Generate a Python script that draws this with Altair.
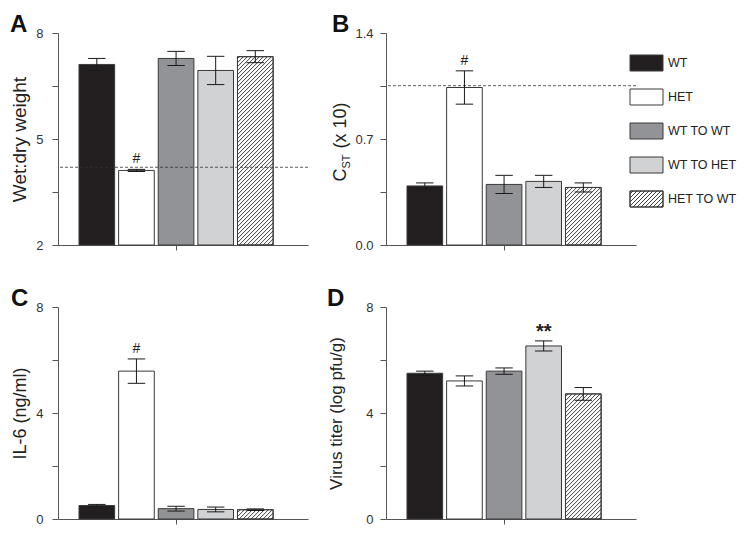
import altair as alt
import pandas as pd

# ---------------- data ----------------
groups = ["WT", "HET", "WT TO WT", "WT TO HET", "HET TO WT"]
fills = ["#231f20", "#ffffff", "#929396", "#d1d2d4", "#ffffff"]

wet_dry_mean = [7.11, 4.11, 7.28, 6.94, 7.33]
wet_dry_err = [0.17, 0.03, 0.20, 0.40, 0.17]
wet_dry_ref = 4.20
wet_dry_mark = ["", "#", "", "", ""]

cst_mean = [0.39, 1.04, 0.40, 0.42, 0.38]
cst_err = [0.02, 0.11, 0.06, 0.04, 0.03]
cst_ref = 1.052
cst_mark = ["", "#", "", "", ""]

il6_mean = [0.51, 5.58, 0.39, 0.36, 0.35]
il6_err = [0.04, 0.46, 0.09, 0.09, 0.03]
il6_mark = ["", "#", "", "", ""]

virus_mean = [5.50, 5.21, 5.58, 6.53, 4.72]
virus_err = [0.08, 0.19, 0.12, 0.19, 0.24]
virus_mark = ["", "", "", "**", ""]

# ---------------- style ----------------
FONT = "Liberation Sans"
W, H = 250, 212
XDOM = [-0.98, 5.33]
HALF = 0.45
CAP = 0.22
HATCH_GROUP = "HET TO WT"
HATCH_STEP = 4.0
AX = "#555555"
BAR_STROKE = "#3a3a3a"
SX = W / (XDOM[1] - XDOM[0])

color_scale = alt.Scale(domain=groups, range=fills)


def hatch_lines(x_lo, x_hi, y_lo, y_hi, sx, sy, step):
    """'/' hatch segments inside a rectangle, returned in data units."""
    wp = (x_hi - x_lo) * sx
    hp = (y_hi - y_lo) * sy
    out = []
    c = -wp + step / 2
    while c < hp:
        xs = max(0.0, -c)
        xe = min(wp, hp - c)
        if xe > xs:
            out.append((x_lo + xs / sx, y_lo + (xs + c) / sy,
                        x_lo + xe / sx, y_lo + (xe + c) / sy))
        c += step
    return out


def panel(letter, mean, err, mark, ydom, yvals, ylabels, fmt, ytitle,
          title_size, title_pad, label_pad, extent, ref=None, mark_size=14,
          mark_bold=False, mark_dy=-10, custom_title=False, legend=False):
    df = pd.DataFrame({"group": groups, "idx": list(range(len(groups))),
                       "mean": mean, "err": err, "mark": mark})
    xs = alt.Scale(domain=XDOM, nice=False, zero=False)
    ys = alt.Scale(domain=ydom, nice=False, zero=False)
    xaxis = alt.Axis(values=[2], labels=False, title=None, tickSize=5,
                     grid=False, domainColor=AX, tickColor=AX)
    label_list = ",".join(str(v) for v in ylabels)
    yaxis = alt.Axis(values=yvals, format=fmt, grid=False, tickSize=6,
                     labelPadding=label_pad, labelFontSize=13, labelFont=FONT,
                     labelColor="#333333",
                     labelExpr=f"indexof([{label_list}], datum.value) >= 0 ? datum.label : ''",
                     title=(None if custom_title else ytitle),
                     titleFont=FONT, titleFontSize=title_size,
                     titleFontWeight="normal", titleColor="#222222",
                     titlePadding=title_pad, minExtent=extent, maxExtent=extent,
                     domainColor=AX, tickColor=AX)

    def X(f):
        return alt.X(f"{f}:Q", scale=xs, axis=xaxis)

    def Y(f):
        return alt.Y(f"{f}:Q", scale=ys, axis=yaxis)

    base = alt.Chart(df).transform_calculate(
        xl=f"datum.idx - {HALF}", xr=f"datum.idx + {HALF}",
        cl=f"datum.idx - {CAP}", cr=f"datum.idx + {CAP}",
        lo="datum.mean - datum.err", hi="datum.mean + datum.err",
        base=str(ydom[0]))

    bars = base.mark_rect(stroke=BAR_STROKE, strokeWidth=1).encode(
        x=X("xl"), x2="xr", y=Y("mean"), y2="base",
        fill=alt.Fill("group:N", scale=color_scale, legend=None))

    hi = groups.index(HATCH_GROUP)
    sy = H / (ydom[1] - ydom[0])
    segs = hatch_lines(hi - HALF, hi + HALF, ydom[0], mean[hi], SX, sy, HATCH_STEP)
    hdf = pd.DataFrame(segs, columns=["hx1", "hy1", "hx2", "hy2"])
    hatch = alt.Chart(hdf).mark_rule(color="#2a2a2a", strokeWidth=0.9).encode(
        x=X("hx1"), y=Y("hy1"), x2="hx2", y2="hy2")
    outline = base.transform_filter(f"datum.group == '{HATCH_GROUP}'").mark_rect(
        fill="#ffffff", fillOpacity=0, stroke=BAR_STROKE, strokeWidth=1).encode(
        x=X("xl"), x2="xr", y=Y("mean"), y2="base")

    ebar = base.mark_rule(color="#1a1a1a", strokeWidth=1).encode(
        x=X("idx"), y=Y("lo"), y2="hi")
    cap_top = base.mark_rule(color="#1a1a1a", strokeWidth=1).encode(
        x=X("cl"), x2="cr", y=Y("hi"))
    cap_bot = base.mark_rule(color="#1a1a1a", strokeWidth=1).encode(
        x=X("cl"), x2="cr", y=Y("lo"))

    marks = base.transform_filter("datum.mark != ''").mark_text(
        dy=mark_dy, baseline="middle", font=FONT, fontSize=mark_size,
        fontWeight=("bold" if mark_bold else "normal"), color="#222222").encode(
        x=X("idx"), y=Y("hi"), text="mark:N")

    layers = [bars, hatch, outline]
    if ref is not None:
        rdf = pd.DataFrame({"ref": [ref]})
        layers.append(alt.Chart(rdf).mark_rule(
            strokeDash=[3, 2], color="#333333", strokeWidth=0.8).encode(y=Y("ref")))
    layers += [ebar, cap_top, cap_bot, marks]

    if custom_title:
        tdf = pd.DataFrame({"t": ["C", "ST", "(x 10)"],
                            "tx": [-40, -36, -40],
                            "ty": [148.5, 135.5, 115.5],
                            "ts": [18, 11, 18]})
        layers.append(alt.Chart(tdf).mark_text(
            angle=270, align="left", baseline="alphabetic", font=FONT,
            color="#222222").encode(
            x=alt.X("tx:Q", scale=None), y=alt.Y("ty:Q", scale=None),
            size=alt.Size("ts:Q", scale=None, legend=None), text="t:N"))

    if legend:
        lx0, lx1, top0, step, sh, tx = 244, 277, 22, 34, 16, 282
        ldf = pd.DataFrame({"group": groups})
        ldf["ly"] = [top0 + step * k for k in range(len(groups))]
        ldf["ly2"] = ldf["ly"] + sh
        ldf["ty"] = ldf["ly"] + sh / 2
        ldf["lx"] = lx0
        ldf["lx2"] = lx1
        ldf["tx"] = tx
        lrect = alt.Chart(ldf).mark_rect(stroke=BAR_STROKE, strokeWidth=1).encode(
            x=alt.X("lx:Q", scale=None), x2="lx2",
            y=alt.Y("ly:Q", scale=None), y2="ly2",
            fill=alt.Fill("group:N", scale=color_scale, legend=None))
        k = groups.index(HATCH_GROUP)
        ytop = top0 + step * k
        lsegs = hatch_lines(lx0, lx1, 0, sh, 1, 1, HATCH_STEP)
        lh = pd.DataFrame([(a, ytop + sh - b, c, ytop + sh - d) for a, b, c, d in lsegs],
                          columns=["hx1", "hy1", "hx2", "hy2"])
        lhatch = alt.Chart(lh).mark_rule(color="#2a2a2a", strokeWidth=0.9).encode(
            x=alt.X("hx1:Q", scale=None), y=alt.Y("hy1:Q", scale=None),
            x2="hx2", y2="hy2")
        lout = alt.Chart(ldf[ldf["group"] == HATCH_GROUP]).mark_rect(
            fill="#ffffff", fillOpacity=0, stroke=BAR_STROKE, strokeWidth=1).encode(
            x=alt.X("lx:Q", scale=None), x2="lx2",
            y=alt.Y("ly:Q", scale=None), y2="ly2")
        ltext = alt.Chart(ldf).mark_text(
            align="left", baseline="middle", font=FONT, fontSize=12.5,
            color="#222222").encode(
            x=alt.X("tx:Q", scale=None), y=alt.Y("ty:Q", scale=None), text="group:N")
        layers += [lrect, lhatch, lout, ltext]

    return alt.layer(*layers).properties(
        width=W, height=H,
        title=alt.TitleParams(letter, anchor="start", frame="bounds", fontSize=24,
                              fontWeight="bold", font=FONT, color="#111111",
                              offset=-10))


pA = panel("A", wet_dry_mean, wet_dry_err, wet_dry_mark, [2, 8],
           [2, 3.5, 5, 6.5, 8], [2, 5, 8], "d", "Wet:dry weight", 19, 7, 9, 22,
           ref=wet_dry_ref)
pB = panel("B", cst_mean, cst_err, cst_mark, [0, 1.4],
           [0, 0.35, 0.7, 1.05, 1.4], [0, 0.7, 1.4], ".1f", "", 18, 12, 7, 21,
           ref=cst_ref, custom_title=True, legend=True)
pC = panel("C", il6_mean, il6_err, il6_mark, [0, 8],
           [0, 2, 4, 6, 8], [0, 4, 8], "d", "IL-6 (ng/ml)", 18, 7, 9, 22)
pD = panel("D", virus_mean, virus_err, virus_mark, [0, 8],
           [0, 2, 4, 6, 8], [0, 4, 8], "d", "Virus titer (log pfu/g)", 17, 20, 7, 21,
           mark_size=20, mark_bold=True, mark_dy=-9)

chart = alt.concat(pA, pB, pC, pD, columns=2,
                   spacing={"row": 62, "column": 78}, bounds="flush").properties(
    padding={"left": 2, "top": 5, "right": 0, "bottom": 0}).configure_view(stroke=None)

chart.save("out.html", embed_options={"renderer": "svg", "actions": False})
